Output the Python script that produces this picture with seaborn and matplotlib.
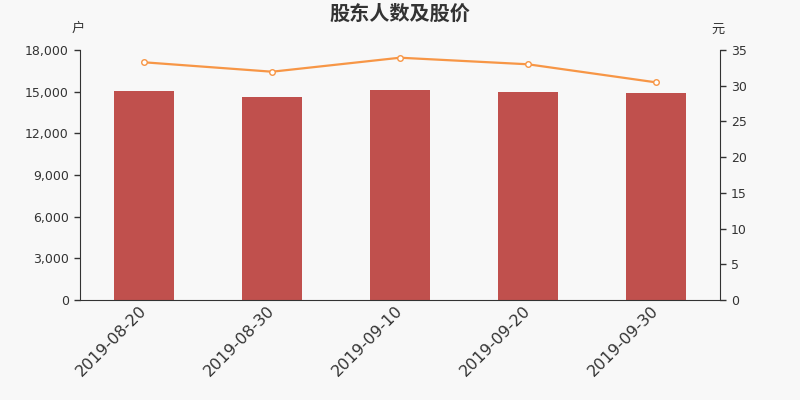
import pandas as pd
import numpy as np
import matplotlib
matplotlib.use('Agg')
import matplotlib.pyplot as plt
import seaborn as sns

# data
dates = ['2019-08-20', '2019-08-30', '2019-09-10', '2019-09-20', '2019-09-30']
holders = [15030, 14630, 15110, 14970, 14920]
price = [33.28, 31.96, 33.92, 33.00, 30.47]

bg = '#f8f8f8'
bar_color = '#c0504d'
line_color = '#f79646'
text_color = '#333333'

sns.set_style('white')
plt.rcParams['font.family'] = ['Noto Sans CJK SC', 'DejaVu Sans']

df = pd.DataFrame({'date': dates, 'holders': holders, 'price': price})

fig = plt.figure(figsize=(8, 4), dpi=100, facecolor=bg)
ax = fig.add_axes([0.1, 0.25, 0.8, 0.625])
ax.set_facecolor(bg)

sns.barplot(data=df, x='date', y='holders', color=bar_color, saturation=1,
            width=0.47, linewidth=0, ax=ax)
ax.set_ylim(0, 18000)
ax.set_xlim(-0.5, 4.5)
ax.set_yticks(np.arange(0, 18001, 3000))
ax.set_yticklabels([f'{v:,}' for v in range(0, 18001, 3000)], fontsize=9,
                   color=text_color, family='DejaVu Sans')
ax.set_xticks(range(len(dates)))
ax.set_xticklabels(dates, rotation=45, ha='right', va='center',
                   rotation_mode='anchor', fontsize=11.5, color=text_color,
                   family='DejaVu Sans')
ax.tick_params(axis='x', which='major', length=0, pad=6)
ax.set_xticks(np.arange(-0.5, 5, 1), minor=True)
ax.tick_params(axis='x', which='minor', length=5, color=text_color, width=1)
ax.tick_params(axis='y', length=4, color=text_color, width=1, pad=4)
ax.set_xlabel('')
ax.set_ylabel('')
for s in ['top', 'right']:
    ax.spines[s].set_visible(False)
ax.spines['left'].set_color(text_color)
ax.spines['bottom'].set_color(text_color)

ax2 = ax.twinx()
sns.lineplot(data=df, x='date', y='price', color=line_color, linewidth=1.6,
             marker='o', markersize=4, markerfacecolor='white',
             markeredgecolor=line_color, markeredgewidth=1, ax=ax2)
ax2.set_ylim(0, 35)
ax2.set_yticks(range(0, 36, 5))
ax2.set_yticklabels([str(v) for v in range(0, 36, 5)], fontsize=9,
                    color=text_color, family='DejaVu Sans')
ax2.tick_params(axis='y', length=4, color=text_color, width=1, pad=4)
ax2.set_ylabel('')
ax2.set_xlabel('')
for s in ['top', 'left', 'bottom']:
    ax2.spines[s].set_visible(False)
ax2.spines['right'].set_color(text_color)

fig.text(0.5, 0.967, '股东人数及股价', ha='center', va='center', fontsize=14.5,
         fontweight='bold', color=text_color)
fig.text(0.098, 0.928, '户', ha='center', va='center', fontsize=9.5, color=text_color)
fig.text(0.898, 0.928, '元', ha='center', va='center', fontsize=9.5, color=text_color)

fig.savefig('out.png', dpi=100, facecolor=bg)
